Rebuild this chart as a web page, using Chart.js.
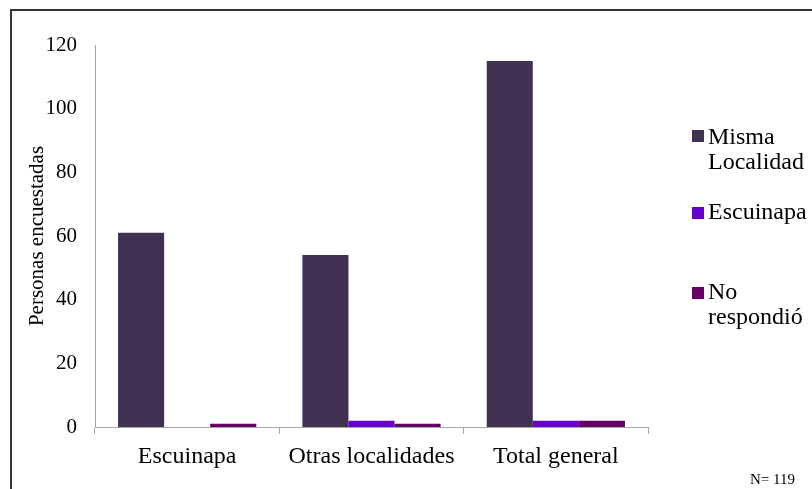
<!DOCTYPE html>
<html>
<head>
<meta charset="utf-8">
<script src="https://cdn.jsdelivr.net/npm/chart.js@4/dist/chart.umd.min.js"></script>
<style>
  html, body { margin: 0; padding: 0; background: #fff; }
  #wrap { position: relative; width: 812px; height: 489px; overflow: hidden; }
  #frame { position: absolute; left: 10px; top: 9px; width: 900px; height: 600px;
           border-left: 2px solid #333; border-top: 2px solid #333; }
  canvas { position: absolute; left: 0; top: 0; }
  .leg { position: absolute; font-family: "Liberation Serif", "Times New Roman", serif;
         font-size: 24px; line-height: 25px; color: #000; white-space: nowrap; }
  .box { position: absolute; width: 12px; height: 12px; }
  #n { position: absolute; left: 750px; top: 471px; font-family: "Liberation Serif", serif;
       font-size: 15px; line-height: 17px; color: #000; }
</style>
</head>
<body>
<div id="wrap">
  <div id="frame"></div>
  <canvas id="c" width="812" height="489"></canvas>
  <div id="legend"></div>
  <div id="n">N= 119</div>
</div>
<script>
const categories = ["Escuinapa", "Otras localidades", "Total general"];
const seriesNames = ["Misma Localidad", "Escuinapa", "No respondió"];
const mismaLocalidad = [61, 54, 115];
const escuinapa = [0, 2, 2];
const noRespondio = [1, 1, 2];
const yTicks = [0, 20, 40, 60, 80, 100, 120];
const colors = ["#403152", "#6600CC", "#660066"];
const legendLines = [["Misma", "Localidad"], ["Escuinapa"], ["No", "respondió"]];
const legendBoxTops = [130, 207, 287];
const legendTextTops = [124, 199, 279];

const seriesValues = [mismaLocalidad, escuinapa, noRespondio];
const serif = "'Liberation Serif', 'Times New Roman', serif";

new Chart(document.getElementById('c'), {
  type: 'bar',
  data: {
    labels: categories,
    datasets: seriesNames.map((name, i) => ({
      label: name,
      data: seriesValues[i],
      backgroundColor: colors[i],
      borderWidth: 0,
      categoryPercentage: 0.75,
      barPercentage: 1.0
    }))
  },
  options: {
    responsive: false,
    animation: false,
    layout: { padding: { left: 12, top: 45, right: 164, bottom: 0 } },
    plugins: { legend: { display: false }, tooltip: { enabled: false } },
    scales: {
      y: {
        min: 0, max: 120,
        afterBuildTicks: s => { s.ticks = yTicks.map(v => ({ value: v })); },
        afterFit: s => { s.width = 83; },
        grid: { display: false, drawTicks: true, tickLength: 7, color: '#a6a6a6' },
        border: { display: true, color: '#a6a6a6', width: 1 },
        ticks: { color: '#000', padding: 11, font: { family: serif, size: 21 } },
        title: { display: true, text: 'Personas encuestadas', color: '#000',
                 font: { family: serif, size: 21 }, padding: { top: 13, bottom: 0 } }
      },
      x: {
        afterFit: s => { s.height = 62; },
        grid: { display: true, drawOnChartArea: false, drawTicks: true, tickLength: 7,
                color: '#a6a6a6', offset: true },
        border: { display: true, color: '#a6a6a6', width: 1 },
        ticks: { color: '#000', padding: 8, font: { family: serif, size: 24 } }
      }
    }
  },
  plugins: [{
    id: 'htmlLegend',
    afterRender(chart) {
      const el = document.getElementById('legend');
      if (el.childElementCount) return;
      chart.data.datasets.forEach((ds, i) => {
        const b = document.createElement('div');
        b.className = 'box';
        b.style.left = '692px';
        b.style.top = legendBoxTops[i] + 'px';
        b.style.background = ds.backgroundColor;
        el.appendChild(b);
        const t = document.createElement('div');
        t.className = 'leg';
        t.style.left = '708px';
        t.style.top = legendTextTops[i] + 'px';
        t.innerHTML = legendLines[i].join('<br>');
        el.appendChild(t);
      });
    }
  }]
});
</script>
</body>
</html>
